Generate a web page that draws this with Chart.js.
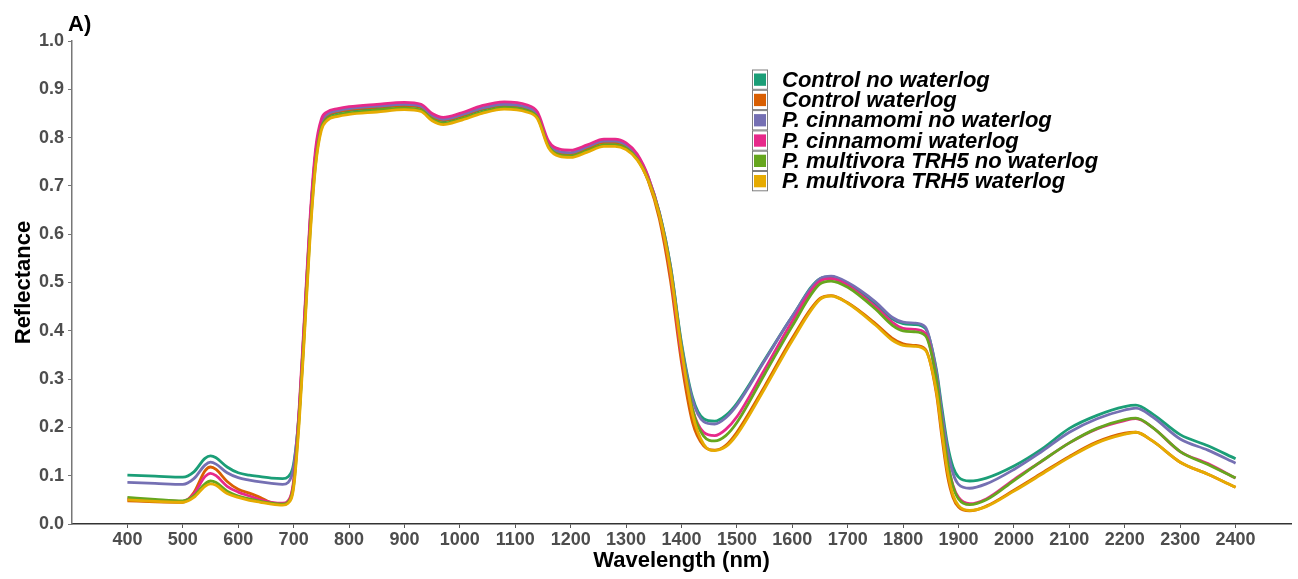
<!doctype html>
<html lang="en">
  <head>
    <meta charset="utf-8">
    <title>Reflectance spectra</title>
    <script src="https://cdn.jsdelivr.net/npm/chart.js"></script>
    <style>
      body {
        margin: 0;
        background: #fff;
      }
      #spectra {
        display: block;
      }
    </style>
  </head>
  <body>
    <canvas id="spectra" width="1298" height="579"></canvas>

    <script>
      // Wavelengths (nm) sampled along the curves
      const wavelengths = [400, 450, 500, 520, 540, 550, 560, 580, 600, 620, 640, 660, 680, 690, 700, 710, 720, 730, 740, 750,
        760, 780, 800, 850, 900, 930, 950, 970, 1000, 1040, 1080, 1120, 1140, 1160, 1180, 1200, 1230, 1260, 1280, 1300,
        1320, 1340, 1360, 1380, 1400, 1420, 1440, 1460, 1480, 1500, 1550, 1600, 1650, 1670, 1700, 1750, 1780, 1800, 1820, 1840,
        1860, 1870, 1880, 1890, 1900, 1920, 1950, 2000, 2050, 2100, 2150, 2200, 2220, 2250, 2300, 2350, 2400];

      const xTicks = [400, 500, 600, 700, 800, 900, 1000, 1100, 1200, 1300, 1400, 1500, 1600, 1700, 1800, 1900, 2000, 2100, 2200, 2300, 2400];
      const yTicks = [0, 0.1, 0.2, 0.3, 0.4, 0.5, 0.6, 0.7, 0.8, 0.9, 1.0];

      const labels = ['Control no waterlog', 'Control waterlog', 'P. cinnamomi no waterlog',
        'P. cinnamomi waterlog', 'P. multivora TRH5 no waterlog', 'P. multivora TRH5 waterlog'];
      const colors = ['#1B9E77', '#D95F02', '#7570B3', '#E7298A', '#66A61E', '#E6AB02'];

      const controlNoWaterlog = [0.101, 0.099, 0.097, 0.108, 0.136, 0.141, 0.137, 0.118, 0.106, 0.101, 0.098, 0.095, 0.094, 0.098, 0.125, 0.23, 0.42, 0.62, 0.76, 0.825,
        0.843, 0.852, 0.856, 0.861, 0.866, 0.862, 0.843, 0.835, 0.843, 0.858, 0.866, 0.860, 0.845, 0.785, 0.768, 0.766, 0.778, 0.790, 0.790, 0.782,
        0.760, 0.715, 0.645, 0.535, 0.375, 0.262, 0.218, 0.213, 0.225, 0.250, 0.340, 0.430, 0.508, 0.512, 0.497, 0.455, 0.425, 0.415, 0.413, 0.405,
        0.320, 0.240, 0.165, 0.118, 0.097, 0.089, 0.095, 0.120, 0.155, 0.198, 0.225, 0.243, 0.246, 0.228, 0.185, 0.162, 0.135];

      const controlWaterlog = [0.048, 0.046, 0.045, 0.065, 0.110, 0.118, 0.113, 0.088, 0.072, 0.064, 0.055, 0.044, 0.041, 0.046, 0.085, 0.23, 0.43, 0.63, 0.77, 0.830,
        0.846, 0.854, 0.858, 0.863, 0.867, 0.863, 0.844, 0.836, 0.844, 0.860, 0.868, 0.862, 0.847, 0.787, 0.769, 0.767, 0.778, 0.790, 0.790, 0.782,
        0.758, 0.710, 0.632, 0.505, 0.335, 0.210, 0.162, 0.153, 0.163, 0.190, 0.285, 0.385, 0.467, 0.473, 0.458, 0.415, 0.385, 0.373, 0.370, 0.362,
        0.270, 0.180, 0.100, 0.055, 0.035, 0.027, 0.037, 0.070, 0.105, 0.140, 0.170, 0.188, 0.190, 0.172, 0.128, 0.103, 0.076];

      const cinnamomiNoWaterlog = [0.086, 0.084, 0.082, 0.094, 0.122, 0.128, 0.124, 0.106, 0.096, 0.091, 0.087, 0.084, 0.082, 0.086, 0.118, 0.235, 0.43, 0.63, 0.77, 0.832,
        0.848, 0.856, 0.860, 0.865, 0.869, 0.865, 0.846, 0.838, 0.846, 0.861, 0.869, 0.863, 0.848, 0.788, 0.771, 0.769, 0.781, 0.793, 0.793, 0.785,
        0.763, 0.718, 0.645, 0.535, 0.370, 0.257, 0.212, 0.207, 0.220, 0.246, 0.338, 0.430, 0.508, 0.513, 0.500, 0.460, 0.428, 0.418, 0.416, 0.408,
        0.315, 0.230, 0.155, 0.105, 0.082, 0.074, 0.083, 0.113, 0.150, 0.190, 0.218, 0.236, 0.240, 0.222, 0.176, 0.153, 0.126];

      const cinnamomiWaterlog = [0.052, 0.049, 0.047, 0.062, 0.098, 0.105, 0.100, 0.078, 0.066, 0.058, 0.050, 0.045, 0.043, 0.048, 0.090, 0.24, 0.44, 0.64, 0.78, 0.838,
        0.853, 0.860, 0.864, 0.869, 0.873, 0.869, 0.850, 0.842, 0.850, 0.866, 0.874, 0.868, 0.853, 0.793, 0.776, 0.774, 0.785, 0.797, 0.797, 0.789,
        0.766, 0.719, 0.642, 0.520, 0.350, 0.237, 0.190, 0.183, 0.196, 0.222, 0.320, 0.420, 0.503, 0.508, 0.494, 0.450, 0.418, 0.405, 0.403, 0.395,
        0.300, 0.210, 0.130, 0.080, 0.055, 0.042, 0.052, 0.092, 0.130, 0.168, 0.197, 0.214, 0.218, 0.200, 0.150, 0.125, 0.095];

      const multivoraNoWaterlog = [0.055, 0.051, 0.048, 0.058, 0.083, 0.089, 0.086, 0.068, 0.058, 0.052, 0.047, 0.043, 0.041, 0.045, 0.080, 0.22, 0.41, 0.61, 0.75, 0.820,
        0.838, 0.847, 0.851, 0.857, 0.861, 0.857, 0.838, 0.830, 0.838, 0.853, 0.862, 0.856, 0.842, 0.782, 0.764, 0.762, 0.773, 0.785, 0.785, 0.778,
        0.756, 0.713, 0.642, 0.530, 0.365, 0.237, 0.182, 0.172, 0.183, 0.210, 0.310, 0.410, 0.497, 0.503, 0.490, 0.445, 0.412, 0.400, 0.398, 0.390,
        0.300, 0.210, 0.130, 0.078, 0.052, 0.040, 0.050, 0.090, 0.130, 0.168, 0.198, 0.216, 0.219, 0.200, 0.150, 0.123, 0.095];

      const multivoraWaterlog = [0.050, 0.047, 0.045, 0.055, 0.078, 0.083, 0.080, 0.063, 0.055, 0.049, 0.045, 0.041, 0.039, 0.043, 0.075, 0.21, 0.40, 0.60, 0.745, 0.815,
        0.835, 0.844, 0.848, 0.853, 0.858, 0.854, 0.835, 0.827, 0.835, 0.850, 0.859, 0.853, 0.839, 0.779, 0.761, 0.759, 0.770, 0.782, 0.782, 0.775,
        0.754, 0.711, 0.640, 0.525, 0.360, 0.227, 0.165, 0.152, 0.160, 0.185, 0.280, 0.380, 0.465, 0.472, 0.457, 0.412, 0.381, 0.370, 0.368, 0.360,
        0.275, 0.190, 0.110, 0.060, 0.038, 0.028, 0.036, 0.068, 0.103, 0.138, 0.168, 0.186, 0.190, 0.172, 0.128, 0.103, 0.076];

      const series = [controlNoWaterlog, controlWaterlog, cinnamomiNoWaterlog, cinnamomiWaterlog, multivoraNoWaterlog, multivoraWaterlog];

      const FONT = "'Liberation Sans', Arial, sans-serif";

      // "A)" panel tag and the keyed legend box, ggplot style
      const decorations = {
        id: 'decorations',
        afterDraw(chart) {
          const ctx = chart.ctx;
          ctx.save();
          ctx.fillStyle = '#000';
          ctx.font = 'bold 22px ' + FONT;
          ctx.textAlign = 'left';
          ctx.textBaseline = 'alphabetic';
          ctx.fillText('A)', 68, 31);

          const keyX = 752, keyW = 16, rowH = 20.3, top = 69.5;
          ctx.fillStyle = '#fff';
          ctx.fillRect(keyX, top, keyW, rowH * labels.length);
          labels.forEach((label, i) => {
            const y = top + i * rowH;
            ctx.fillStyle = colors[i];
            ctx.fillRect(keyX + 2, y + 4, keyW - 4, rowH - 8);
            ctx.strokeStyle = '#7f7f7f';
            ctx.lineWidth = 1;
            ctx.strokeRect(keyX + 0.5, y + 0.5, keyW - 1, rowH - 1);
            ctx.fillStyle = '#000';
            ctx.font = 'italic bold 22px ' + FONT;
            ctx.textBaseline = 'middle';
            ctx.fillText(label, 782, y + rowH / 2 + 1);
          });
          ctx.restore();
        }
      };

      const bgWhite = {
        id: 'bgWhite',
        beforeDraw(chart) {
          const ctx = chart.ctx;
          ctx.save();
          ctx.fillStyle = '#fff';
          ctx.fillRect(0, 0, chart.width, chart.height);
          ctx.restore();
        }
      };

      const datasets = labels.map((label, i) => ({
        label: label,
        data: wavelengths.map((w, j) => ({ x: w, y: series[i][j] })),
        borderColor: colors[i],
        backgroundColor: colors[i],
        borderWidth: 2.8,
        pointRadius: 0,
        cubicInterpolationMode: 'monotone',
        order: labels.length - i
      }));

      new Chart(document.getElementById('spectra'), {
        type: 'line',
        data: { datasets },
        options: {
          responsive: false,
          animation: false,
          layout: { padding: { left: 0, right: 7, top: 41, bottom: 0 } },
          plugins: {
            legend: { display: false },
            tooltip: { enabled: false }
          },
          scales: {
            x: {
              type: 'linear',
              min: 300,
              max: 2500,
              afterBuildTicks: (s) => { s.ticks = xTicks.map(v => ({ value: v })); },
              afterFit: (s) => { s.height = 55; },
              grid: { drawOnChartArea: false, tickLength: 4, color: '#555' },
              border: { color: '#333', width: 1.5 },
              ticks: {
                color: '#4d4d4d',
                padding: 1,
                maxRotation: 0,
                autoSkip: false,
                callback: (v) => String(v),
                font: { family: FONT, size: 18, weight: 'bold' }
              },
              title: {
                display: true,
                text: 'Wavelength (nm)',
                color: '#000',
                padding: { top: 0, bottom: 5 },
                font: { family: FONT, size: 22, weight: 'bold' }
              }
            },
            y: {
              min: 0,
              max: 1,
              afterBuildTicks: (s) => { s.ticks = yTicks.map(v => ({ value: v })); },
              afterFit: (s) => { s.width = 72; },
              grid: { drawOnChartArea: false, tickLength: 4, color: '#777' },
              border: { color: '#777', width: 1.5 },
              ticks: {
                color: '#4d4d4d',
                padding: 4,
                callback: (v) => v.toFixed(1),
                font: { family: FONT, size: 18, weight: 'bold' }
              },
              title: {
                display: true,
                text: 'Reflectance',
                color: '#000',
                padding: { top: 11, bottom: 0 },
                font: { family: FONT, size: 22, weight: 'bold' }
              }
            }
          }
        },
        plugins: [bgWhite, decorations]
      });
    </script>
  </body>
</html>
